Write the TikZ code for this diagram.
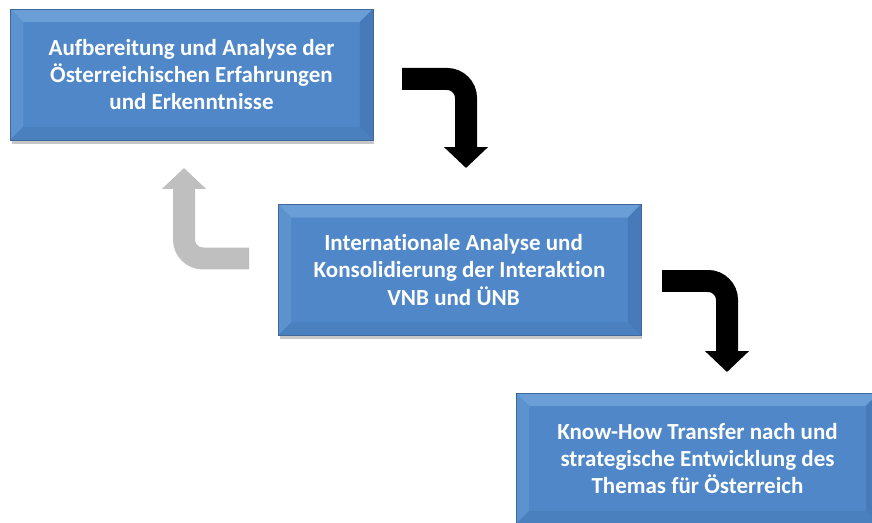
\documentclass[tikz,border=0pt]{standalone}
\usepackage{fontspec}
\setmainfont[Ligatures=NoCommon]{Carlito}
\usetikzlibrary{arrows.meta,shadows}

\definecolor{boxblue}{RGB}{79,135,200}
\definecolor{boxedge}{RGB}{62,104,156}
\definecolor{bevtop}{RGB}{106,158,214}
\definecolor{bevleft}{RGB}{92,146,206}
\definecolor{bevright}{RGB}{70,122,184}
\definecolor{bevbottom}{RGB}{74,128,190}
\definecolor{backgray}{RGB}{191,191,191}

\tikzset{
	stepbox/.style={rectangle, fill=boxblue, draw=boxedge, line width=0.5pt,
		minimum width=7.26cm, minimum height=2.62cm, inner sep=0pt,
		text=white, align=center, font=\bfseries\fontsize{13.1}{15.6}\selectfont,
		drop shadow={shadow xshift=0.03cm, shadow yshift=-0.08cm, opacity=0.22, fill=black},
		path picture={
			\fill[bevtop] (path picture bounding box.north west) -- (path picture bounding box.north east)
				-- ([shift={(-0.26cm,-0.26cm)}]path picture bounding box.north east) -- ([shift={(0.26cm,-0.26cm)}]path picture bounding box.north west) -- cycle;
			\fill[bevleft] (path picture bounding box.north west) -- (path picture bounding box.south west)
				-- ([shift={(0.26cm,0.26cm)}]path picture bounding box.south west) -- ([shift={(0.26cm,-0.26cm)}]path picture bounding box.north west) -- cycle;
			\fill[bevright] (path picture bounding box.north east) -- (path picture bounding box.south east)
				-- ([shift={(-0.26cm,0.26cm)}]path picture bounding box.south east) -- ([shift={(-0.26cm,-0.26cm)}]path picture bounding box.north east) -- cycle;
			\fill[bevbottom] (path picture bounding box.south west) -- (path picture bounding box.south east)
				-- ([shift={(-0.26cm,0.26cm)}]path picture bounding box.south east) -- ([shift={(0.26cm,0.26cm)}]path picture bounding box.south west) -- cycle;
		}},
	flow/.style={line width=0.44cm, rounded corners=0.38cm, -{Triangle[length=0.42cm, width=0.86cm]}},
}

\begin{document}
\begin{tikzpicture}[x=0.02cm, y=-0.02cm]
	% Frame:
	\clip (0, 0) rectangle (872, 523);
	\fill[white] (0, 0) rectangle (872, 523);

	% Steps:
	\node[stepbox] (ana) at (191.5, 74.5) {Aufbereitung und Analyse der\\ Österreichischen Erfahrungen\\ und Erkenntnisse};
	\node[stepbox] (int) at (459.5, 270) {Internationale Analyse und\hspace*{0.24cm}\\ Konsolidierung der Interaktion\hspace*{0.24cm}\\ VNB und ÜNB\hspace*{0.24cm}};
	\node[stepbox] (kno) at (697.5, 458.5) {Know-How Transfer nach und\\ strategische Entwicklung des\\ Themas für Österreich};

	% Arrows:
	\coordinate (a1s) at (402, 79);
	\coordinate (a1e) at (466, 168);
	\coordinate (a2s) at (662, 281);
	\coordinate (a2e) at (727, 372);
	\coordinate (b1s) at (249, 258.5);
	\coordinate (b1e) at (184, 168);
	\draw[flow] (a1s) -| (a1e);
	\draw[flow] (a2s) -| (a2e);
	\draw[flow, backgray] (b1s) -| (b1e);
\end{tikzpicture}
\end{document}
